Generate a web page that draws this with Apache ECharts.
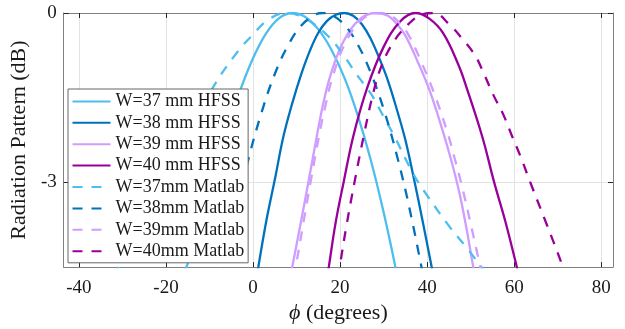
<!DOCTYPE html>
<html>
<head>
<meta charset="utf-8">
<script src="https://cdn.jsdelivr.net/npm/echarts@6/dist/echarts.min.js"></script>
<style>
  html, body { margin: 0; padding: 0; background: #fff; }
  #main { width: 625px; height: 329px; }
</style>
</head>
<body>
<div id="main"></div>
<script>
// tick values
var xTicks = [-40, -20, 0, 20, 40, 60, 80]
var yTicks = [0, -3]

var seriesNames = [
  'W=37 mm HFSS', 'W=38 mm HFSS', 'W=39 mm HFSS', 'W=40 mm HFSS',
  'W=37mm Matlab', 'W=38mm Matlab', 'W=39mm Matlab', 'W=40mm Matlab'
]

// [phi (deg), pattern (dB)]
var hfss37 = [[-16, -4.65], [-12, -3.75], [-9, -2.95], [-6, -2.1], [-3, -1.38], [0, -0.8], [3, -0.36], [6, -0.09], [9, 0], [12, -0.07], [15, -0.29], [18, -0.65], [21, -1.15], [24, -1.8], [27, -2.59], [30, -3.53], [33, -4.61]]
var hfss38 = [[1, -4.6], [3, -3.7], [5, -2.95], [7, -2.18], [9, -1.6], [11, -1.1], [13, -0.68], [15, -0.35], [17, -0.14], [19, -0.03], [21, 0], [23, -0.05], [25, -0.2], [27, -0.45], [29, -0.8], [31, -1.2], [33, -1.7], [35, -2.25], [37, -2.95], [39, -3.7], [41.3, -4.6]]
var hfss39 = [[8.5, -4.7], [9, -4.5], [11, -3.7], [12.7, -3], [14.7, -2.16], [16, -1.65], [17.8, -1.1], [20.8, -0.5], [24.7, -0.1], [28.5, 0], [31, -0.05], [33.1, -0.2], [35, -0.4], [37.7, -0.84], [40.7, -1.4], [43.7, -2.12], [45.5, -2.6], [47.3, -3.15], [49, -3.8], [50.6, -4.5], [51.5, -4.85]]
var hfss40 = [[16.8, -4.8], [17.4, -4.5], [19, -3.7], [20.8, -3], [23.1, -2.16], [26.2, -1.33], [30, -0.6], [33.8, -0.15], [37.3, 0], [40.5, -0.1], [43.7, -0.36], [47.2, -0.92], [49.1, -1.33], [52.7, -2.2], [55.4, -3], [58, -3.7], [60.6, -4.5], [61.3, -4.75]]
var matlab37 = [[-32, -4.65], [-26, -3.8], [-20, -2.95], [-15, -2.2], [-9.3, -1.33], [-3.6, -0.69], [0, -0.38], [3.3, -0.13], [7.5, 0], [12, -0.1], [17.4, -0.42], [20.8, -0.75], [23.9, -1.1], [27, -1.42], [29.6, -1.78], [32.3, -2.16], [36.9, -2.86], [39.9, -3.22], [45.3, -3.8], [49, -4.15], [52.5, -4.5], [53, -4.55]]
var matlab38 = [[-7, -4.7], [-4, -3.56], [-1, -2.57], [2, -1.75], [5, -1.08], [8, -0.58], [11, -0.23], [14, -0.04], [16, 0], [18, -0.03], [21, -0.21], [24, -0.55], [27, -1.05], [30, -1.7], [33, -2.51], [36, -3.48], [39.5, -4.82]]
var matlab39 = [[9.3, -4.7], [9.8, -4.5], [11.6, -3.7], [13.2, -3], [15.2, -2.16], [16.6, -1.65], [18.4, -1.1], [21.4, -0.5], [25.3, -0.1], [29.3, 0], [31.8, -0.05], [33.9, -0.2], [35.8, -0.4], [38.5, -0.84], [41.5, -1.4], [44.6, -2.1], [46.4, -2.6], [48.1, -3.1], [50.2, -3.8], [52.2, -4.5], [53, -4.8]]
var matlab40 = [[19.5, -4.7], [19.9, -4.5], [21.5, -3.75], [23.3, -3], [25.5, -2.15], [27.7, -1.39], [29.6, -0.92], [32.3, -0.51], [35.4, -0.22], [38.4, -0.04], [41.5, 0], [45.3, -0.22], [48, -0.45], [51, -0.75], [52.9, -1.05], [55.2, -1.45], [57.5, -1.8], [59.4, -2.16], [61.5, -2.55], [63.7, -3], [67.5, -3.75], [71.2, -4.5], [72, -4.7]]

var curves = [hfss37, hfss38, hfss39, hfss40, matlab37, matlab38, matlab39, matlab40]
var colors = ['#4DBEEE', '#0072BD', '#CF9CFF', '#990099']

var serif = 'Liberation Serif, Times New Roman, serif'

var myChart = echarts.init(document.getElementById('main'))

var series = curves.map(function (d, i) {
  return {
    name: seriesNames[i],
    type: 'line',
    data: d,
    smooth: 0.4,
    symbol: 'none',
    showSymbol: false,
    clip: true,
    lineStyle: {
      color: colors[i % 4],
      width: 2.3,
      type: i < 4 ? 'solid' : [10, 9]
    },
    itemStyle: { color: colors[i % 4] }
  }
})

function xAxisCfg (pos, main) {
  return {
    type: 'value',
    position: pos,
    min: -43.5,
    max: 82.7,
    axisLine: { show: true, onZero: false, lineStyle: { color: '#808080', width: 1 } },
    axisTick: { show: true, inside: true, length: 5, customValues: xTicks, lineStyle: { color: '#262626' } },
    axisLabel: {
      show: main,
      customValues: xTicks,
      margin: 11,
      fontSize: 19,
      fontFamily: serif,
      color: '#1a1a1a'
    },
    splitLine: { show: main, customValues: xTicks, lineStyle: { color: '#e3e3e3', width: 1 } },
    name: main ? '{i|ϕ} (degrees)' : '',
    nameLocation: 'middle',
    nameGap: 34,
    nameTextStyle: {
      fontSize: 22,
      fontFamily: serif,
      color: '#1a1a1a',
      rich: { i: { fontStyle: 'italic', fontSize: 22, fontFamily: serif, color: '#1a1a1a' } }
    }
  }
}

function yAxisCfg (pos, main) {
  return {
    type: 'value',
    position: pos,
    min: -4.5,
    max: 0,
    axisLine: { show: true, onZero: false, lineStyle: { color: '#808080', width: 1 } },
    axisTick: { show: true, inside: true, length: 5, customValues: yTicks, lineStyle: { color: '#262626' } },
    axisLabel: {
      show: main,
      customValues: yTicks,
      margin: 7,
      fontSize: 19,
      fontFamily: serif,
      color: '#1a1a1a'
    },
    splitLine: { show: main, customValues: yTicks, lineStyle: { color: '#e3e3e3', width: 1 } },
    name: main ? 'Radiation Pattern (dB)' : '',
    nameLocation: 'middle',
    nameGap: 26,
    nameTextStyle: { fontSize: 22, fontFamily: serif, color: '#1a1a1a' }
  }
}

myChart.setOption({
  animation: false,
  backgroundColor: '#fff',
  grid: { left: 62, right: 12, top: 13, bottom: 61, containLabel: false },
  xAxis: [xAxisCfg('bottom', true), xAxisCfg('top', false)],
  yAxis: [yAxisCfg('left', true), yAxisCfg('right', false)],
  legend: {
    data: seriesNames,
    orient: 'vertical',
    left: 68,
    top: 89,
    padding: [3.4, 4, 2.6, 3.5],
    itemWidth: 38,
    itemHeight: 14,
    itemGap: 3.4,
    backgroundColor: '#fff',
    borderColor: '#666',
    borderWidth: 1,
    borderRadius: 0,
    itemStyle: { opacity: 0, borderWidth: 0 },
    textStyle: { fontSize: 18, fontFamily: serif, color: '#1a1a1a' }
  },
  series: series
})
</script>
</body>
</html>
